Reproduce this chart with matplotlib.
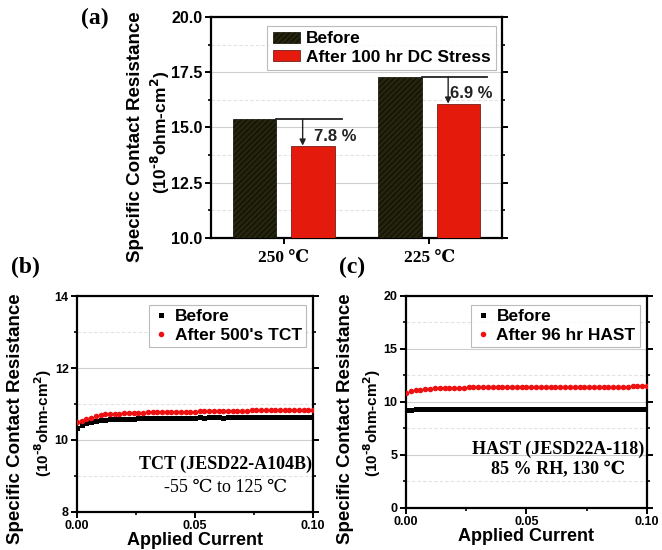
import matplotlib
matplotlib.use("Agg")
import matplotlib.pyplot as plt
from matplotlib.ticker import MultipleLocator, FixedLocator
import numpy as np

plt.rcParams['font.family'] = ['Liberation Sans', 'DejaVu Sans']
plt.rcParams['font.weight'] = 'bold'
plt.rcParams['hatch.linewidth'] = 0.6
plt.rcParams['hatch.color'] = '#0a0a00'

SERIF = ['Liberation Serif', 'DejaVu Serif']

# ---------------- data ----------------
# (a) bar chart
temps = ['250 \u2103', '225 \u2103']
before_a = [15.38, 17.30]
after_a = [14.18, 16.08]
pct_labels = ['7.8 %', '6.9 %']

# (b),(c) applied current grid
current = [0.000, 0.002, 0.004, 0.006, 0.008, 0.010, 0.012, 0.014, 0.016, 0.018,
           0.020, 0.022, 0.024, 0.026, 0.028, 0.030, 0.032, 0.034, 0.036, 0.038,
           0.040, 0.042, 0.044, 0.046, 0.048, 0.050, 0.052, 0.054, 0.056, 0.058,
           0.060, 0.062, 0.064, 0.066, 0.068, 0.070, 0.072, 0.074, 0.076, 0.078,
           0.080, 0.082, 0.084, 0.086, 0.088, 0.090, 0.092, 0.094, 0.096, 0.098,
           0.100]

tct_before = [10.34, 10.42, 10.47, 10.51, 10.54, 10.55, 10.56, 10.57, 10.57, 10.58,
              10.58, 10.59, 10.59, 10.60, 10.60, 10.60, 10.61, 10.61, 10.61, 10.61,
              10.62, 10.61, 10.62, 10.62, 10.62, 10.62, 10.63, 10.62, 10.63, 10.63,
              10.63, 10.62, 10.63, 10.63, 10.63, 10.64, 10.63, 10.63, 10.64, 10.63,
              10.64, 10.64, 10.63, 10.64, 10.64, 10.64, 10.64, 10.64, 10.64, 10.64,
              10.64]
tct_after = [10.49, 10.53, 10.59, 10.62, 10.66, 10.70, 10.71, 10.72, 10.73, 10.73,
             10.74, 10.75, 10.75, 10.76, 10.76, 10.77, 10.77, 10.77, 10.78, 10.78,
             10.78, 10.78, 10.79, 10.79, 10.79, 10.79, 10.80, 10.80, 10.80, 10.80,
             10.80, 10.81, 10.81, 10.81, 10.81, 10.81, 10.81, 10.82, 10.82, 10.82,
             10.82, 10.82, 10.82, 10.82, 10.83, 10.83, 10.83, 10.83, 10.83, 10.83,
             10.83]

hast_before = [9.26, 9.22, 9.30, 9.32, 9.33, 9.33, 9.34, 9.33, 9.34, 9.34,
               9.34, 9.34, 9.35, 9.34, 9.35, 9.35, 9.35, 9.34, 9.35, 9.35,
               9.35, 9.35, 9.35, 9.36, 9.35, 9.36, 9.37, 9.35, 9.35, 9.36,
               9.35, 9.36, 9.35, 9.36, 9.36, 9.35, 9.36, 9.36, 9.36, 9.35,
               9.36, 9.36, 9.36, 9.36, 9.35, 9.36, 9.36, 9.36, 9.36, 9.36,
               9.36]
hast_after = [10.88, 11.00, 11.10, 11.17, 11.22, 11.26, 11.28, 11.30, 11.32, 11.33,
              11.34, 11.35, 11.36, 11.37, 11.37, 11.38, 11.38, 11.39, 11.39, 11.40,
              11.40, 11.40, 11.41, 11.41, 11.41, 11.42, 11.42, 11.42, 11.42, 11.43,
              11.43, 11.43, 11.43, 11.43, 11.44, 11.44, 11.44, 11.44, 11.44, 11.44,
              11.45, 11.45, 11.45, 11.45, 11.45, 11.45, 11.45, 11.46, 11.46, 11.46,
              11.46]

RED = '#e41a0c'
DARK = '#25240f'
YLAB2 = r'(10$^{\mathbf{\text{-}8}}$ohm-cm$^{\mathbf{2}}$)'

fig = plt.figure(figsize=(6.62, 5.5), dpi=100)


def style_axes(ax, tick_size):
    for s in ax.spines.values():
        s.set_linewidth(1.6)
    ax.tick_params(axis='both', which='major', direction='out', length=4, width=1.4,
                   labelsize=tick_size, pad=2)
    ax.tick_params(axis='both', which='minor', direction='out', length=2.5, width=1.2)
    ax.tick_params(axis='y', which='both', right=True)
    ax.grid(True, which='major', axis='y', color='#cfcfcf', lw=0.8)
    ax.grid(True, which='minor', axis='y', color='#e2e2e2', lw=0.8, ls=(0, (3, 2)))
    ax.set_axisbelow(True)
    for lab in ax.get_xticklabels() + ax.get_yticklabels():
        lab.set_fontweight('bold')


# ---------------- (a) ----------------
axa = fig.add_axes([0.3187, 0.5673, 0.4396, 0.4018])
pos = np.arange(1, len(temps) + 1)
bw = 0.30
axa.bar(pos - 0.2, before_a, bw, color=DARK, hatch='//////', edgecolor='#0a0a00',
        lw=0.5, label='Before', zorder=3)
axa.bar(pos + 0.2, after_a, bw, color=RED, edgecolor='#5a0a00', lw=0.5,
        label='After 100 hr DC Stress', zorder=3)
axa.set_xlim(0.5, 2.5)
axa.set_ylim(10, 20)
axa.yaxis.set_major_locator(MultipleLocator(2.5))
axa.yaxis.set_minor_locator(MultipleLocator(1.25))
axa.yaxis.set_major_formatter(matplotlib.ticker.FormatStrFormatter('%.1f'))
axa.set_xticks(pos)
axa.set_xticklabels(temps)
style_axes(axa, 11.5)
for lab in axa.get_xticklabels():
    lab.set_family(SERIF)
    lab.set_fontsize(12.5)
    lab.set_fontweight('bold')
axa.tick_params(axis='x', pad=5)
text_dx = [0.21, 0.14]
for i, p in enumerate(pos):
    b, a = before_a[i], after_a[i]
    axa.plot([p - 0.05, p + 0.40], [b, b], color='#222', lw=1.3, zorder=4)
    axa.annotate('', xy=(p + 0.13, a), xytext=(p + 0.13, b),
                 arrowprops=dict(arrowstyle='-|>', color='#222', lw=1.0,
                                 mutation_scale=9, shrinkA=0, shrinkB=0), zorder=5)
    axa.text(p + text_dx[i], a + 0.36 * (b - a), pct_labels[i], fontsize=12,
             fontweight='bold', va='center', ha='left', color='#222', zorder=5)
leg = axa.legend(loc='upper right', bbox_to_anchor=(0.99, 0.975), fontsize=12.5,
                 frameon=True, fancybox=False, edgecolor='#aaaaaa', handlelength=1.6,
                 handleheight=0.6, handletextpad=0.3, borderpad=0.3, labelspacing=0.2,
                 borderaxespad=0.2)
leg.get_frame().set_linewidth(0.8)

fig.text(135 / 662, 1 - 137 / 550, 'Specific Contact Resistance', rotation=90,
         ha='center', va='center', fontsize=13.5, fontweight='bold')
fig.text(160 / 662, 1 - 132 / 550, YLAB2,
         rotation=90, ha='center', va='center', fontsize=12.5, fontweight='bold')
fig.text(95 / 662, 1 - 18 / 550, '(a)', family=SERIF, fontsize=17, fontweight='bold',
         ha='center', va='center')


def curve_panel(rect, yb, ya, ylim, ymaj, ymin, labels, note, note_y, note_w, panel,
                ylab_x):
    ax = fig.add_axes(rect)
    ax.plot(current, yb, ls='none', marker='s', ms=3.6, color='black', mew=0,
            label=labels[0], zorder=3)
    ax.plot(current, ya, ls='none', marker='o', ms=4.0, color='#ee1111', mew=0,
            label=labels[1], zorder=4)
    ax.set_xlim(0, 0.1)
    ax.set_ylim(*ylim)
    ax.xaxis.set_major_locator(FixedLocator([0.0, 0.05, 0.1]))
    ax.xaxis.set_minor_locator(FixedLocator([0.025, 0.075]))
    ax.xaxis.set_major_formatter(matplotlib.ticker.FormatStrFormatter('%.2f'))
    ax.yaxis.set_major_locator(MultipleLocator(ymaj))
    ax.yaxis.set_minor_locator(MultipleLocator(ymin))
    style_axes(ax, 9)
    ax.set_xlabel('Applied Current', fontsize=13, fontweight='bold', labelpad=0)
    lg = ax.legend(loc='upper right', bbox_to_anchor=(0.985, 0.975), fontsize=12.5,
                   frameon=True, fancybox=False, edgecolor='#aaaaaa', handlelength=0.8,
                   handletextpad=0.4, borderpad=0.25, labelspacing=0.2,
                   borderaxespad=0.2, markerscale=1.0)
    lg.get_frame().set_linewidth(0.8)
    ax.text(0.63, note_y[0], note[0], transform=ax.transAxes, family=SERIF,
            fontsize=13, fontweight='bold', ha='center', va='center')
    ax.text(0.63, note_y[1], note[1], transform=ax.transAxes, family=SERIF,
            fontsize=13, fontweight=note_w, ha='center', va='center')
    fig.text(ylab_x[0] / 662, 1 - 419 / 550, 'Specific Contact Resistance', rotation=90,
             ha='center', va='center', fontsize=13.5, fontweight='bold')
    fig.text(ylab_x[1] / 662, 1 - 423 / 550, YLAB2,
             rotation=90, ha='center', va='center', fontsize=11, fontweight='bold')
    fig.text(panel[1] / 662, 1 - 267 / 550, panel[0], family=SERIF, fontsize=17,
             fontweight='bold', ha='center', va='center')
    return ax


curve_panel([0.1163, 0.0691, 0.3565, 0.3927], tct_before, tct_after, (8, 14), 2, 1,
            ['Before', "After 500's TCT"],
            ['TCT (JESD22-A104B)', '-55 \u2103 to 125 \u2103'], [0.22, 0.115], 'normal',
            ('(b)', 25), (16, 43))
curve_panel([0.6133, 0.0764, 0.3640, 0.3855], hast_before, hast_after, (0, 20), 5, 2.5,
            ['Before', 'After 96 hr HAST'],
            ['HAST (JESD22A-118)', '85 % RH, 130 \u2103'], [0.275, 0.18], 'bold',
            ('(c)', 352), (345, 372))

fig.savefig('out.png', dpi=100)
